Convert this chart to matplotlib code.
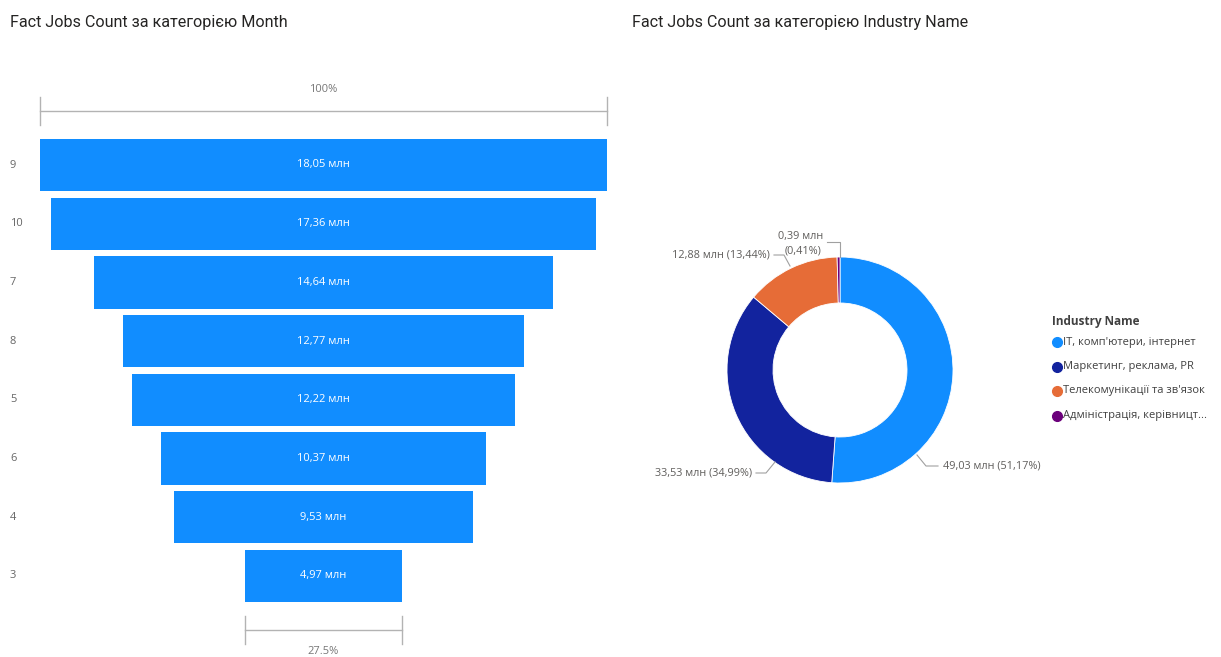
import matplotlib
matplotlib.use("Agg")
import matplotlib.pyplot as plt

# funnel data (monthly job counts, millions)
months = ["9", "10", "7", "8", "5", "6", "4", "3"]
month_counts = [18.05, 17.36, 14.64, 12.77, 12.22, 10.37, 9.53, 4.97]

# donut data (industry shares)
industries = ["IT, комп'ютери, інтернет", "Маркетинг, реклама, PR",
              "Телекомунікації та зв'язок", "Адміністрація, керівницт..."]
industry_counts = [49.03, 33.53, 12.88, 0.39]
industry_pcts = [51.17, 34.99, 13.44, 0.41]
industry_colors = ["#118DFF", "#12239E", "#E66C37", "#6B007B"]

W, H = 1221, 657
plt.rcParams["font.family"] = ["Open Sans", "DejaVu Sans"]
fig = plt.figure(figsize=(W / 100, H / 100), dpi=100)
fig.patch.set_facecolor("white")


def px(x, y):
    # pixel -> figure fraction
    return x / W, 1 - y / H


def fmt(v):
    return f"{v:.2f}".replace(".", ",")


title_kw = dict(fontsize=11.6, color="#252423", family=["Roboto", "DejaVu Sans"],
                va="center", ha="left")
fig.text(*px(10, 22), "Fact Jobs Count за категорією Month", **title_kw)
fig.text(*px(632, 22), "Fact Jobs Count за категорією Industry Name", **title_kw)

# ---- funnel ----
top_px, bot_px = 70, 657
row0, step = 165, 58.7
ax = fig.add_axes([40 / W, 0, 567 / W, (bot_px - top_px) / H])
mx = max(month_counts)
ax.set_xlim(-mx / 2, mx / 2)
ax.set_ylim((bot_px - row0) / step, (top_px - row0) / step)
ax.axis("off")

for i, (m, v) in enumerate(zip(months, month_counts)):
    ax.barh(i, v, left=-v / 2, height=0.89, color="#118DFF")
    ax.text(0, i, f"{fmt(v)} млн", color="white", fontsize=8,
            ha="center", va="center")
    fig.text(*px(10, row0 + i * step), m, color="#666666", fontsize=8,
             ha="left", va="center")

grey = "#b3b3b3"


def bracket(width, yc, ytxt, label):
    ax.plot([-width / 2, width / 2], [yc, yc], color=grey, lw=1, clip_on=False)
    for x in (-width / 2, width / 2):
        ax.plot([x, x], [yc - 0.23, yc + 0.23], color=grey, lw=1, clip_on=False)
    ax.text(0, ytxt, label, color="#777777", fontsize=8,
            ha="center", va="center", clip_on=False)


bracket(mx, (111 - row0) / step, (90 - row0) / step, "100%")
last = month_counts[-1]
bracket(last, (630 - row0) / step, (651 - row0) / step,
        f"{last / mx * 100:.1f}%")

# ---- donut ----
cx, cy = 840, 370
dax = fig.add_axes([(cx - 200) / W, 1 - (cy + 200) / H, 400 / W, 400 / H])
dax.pie(industry_counts, colors=industry_colors, startangle=90,
        counterclock=False, radius=1.13,
        wedgeprops=dict(width=0.46, edgecolor="white", linewidth=0.6))
dax.set_xlim(-2, 2)
dax.set_ylim(-2, 2)
dax.axis("off")


def d(x, y):
    return (x - cx) / 100, (cy - y) / 100


lbl = dict(color="#605E5C", fontsize=7.8, va="center")
line = dict(color="#a0a0a0", lw=0.8)

# 0,39 млн
dax.text(*d(801, 236), f"{fmt(industry_counts[3])} млн", ha="center", **lbl)
dax.text(*d(803, 251), f"({fmt(industry_pcts[3])}%)", ha="center", **lbl)
xs, ys = zip(d(827, 242), d(840, 242), d(840, 257))
dax.plot(xs, ys, **line)

# 12,88 млн
dax.text(*d(770, 255), f"{fmt(industry_counts[2])} млн ({fmt(industry_pcts[2])}%)",
         ha="right", **lbl)
xs, ys = zip(d(774, 255), d(784, 255), d(790, 266))
dax.plot(xs, ys, **line)

# 33,53 млн
dax.text(*d(752, 473), f"{fmt(industry_counts[1])} млн ({fmt(industry_pcts[1])}%)",
         ha="right", **lbl)
xs, ys = zip(d(756, 473), d(766, 473), d(775, 462))
dax.plot(xs, ys, **line)

# 49,03 млн
dax.text(*d(943, 466), f"{fmt(industry_counts[0])} млн ({fmt(industry_pcts[0])}%)",
         ha="left", **lbl)
xs, ys = zip(d(938, 466), d(926, 466), d(917, 455))
dax.plot(xs, ys, **line)

# legend
fig.text(*px(1052, 321), "Industry Name", fontsize=8.5, fontweight="bold",
         color="#404040", ha="left", va="center")
for i, (name, c) in enumerate(zip(industries, industry_colors)):
    y = 342 + i * 24.5
    fig.lines.append(plt.Line2D([1057 / W], [1 - y / H], marker="o", ms=7,
                                color=c, transform=fig.transFigure))
    fig.text(*px(1063, y), name, fontsize=8, color="#404040",
             ha="left", va="center")

fig.savefig("out.png", dpi=100, facecolor="white")
